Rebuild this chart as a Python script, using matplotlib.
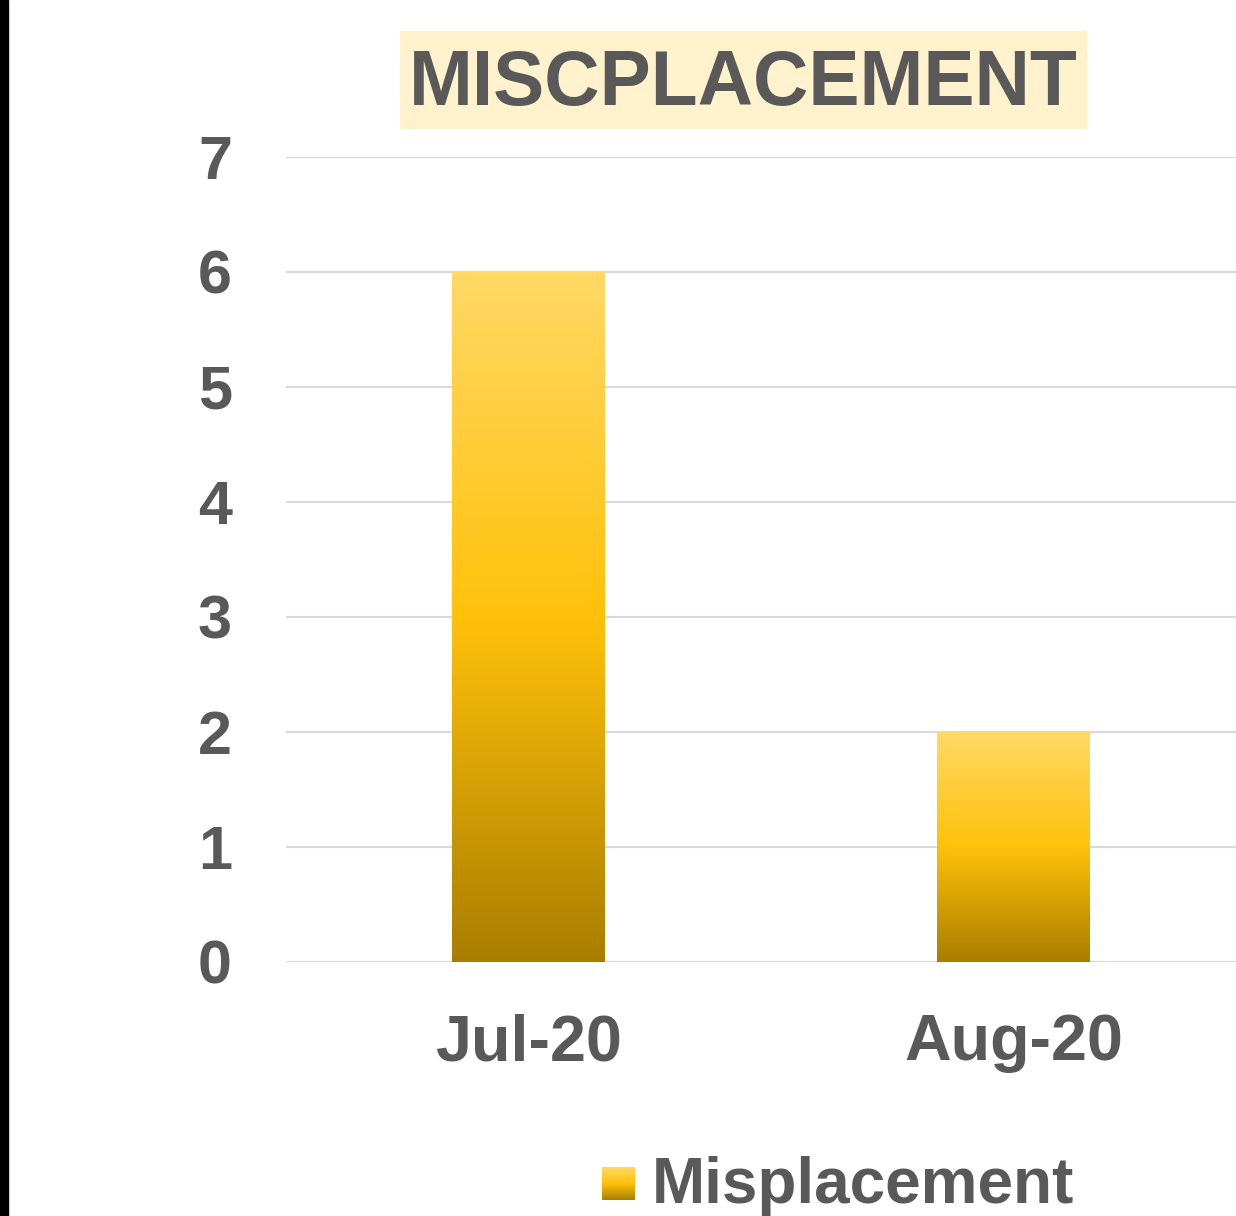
import numpy as np
import matplotlib
matplotlib.use("Agg")
import matplotlib.pyplot as plt
from matplotlib.colors import LinearSegmentedColormap
from matplotlib.patches import Rectangle

categories = ["Jul-20", "Aug-20"]
values = [6, 2]
series_name = "Misplacement"
title = "MISCPLACEMENT"
yticks = [0, 1, 2, 3, 4, 5, 6, 7]

W, H = 1236, 1216
fig = plt.figure(figsize=(W / 100, H / 100), dpi=100)
fig.patch.set_facecolor("white")

# left black border line
fig.add_artist(Rectangle((0, 0), 8 / W, 1, transform=fig.transFigure, color="black", zorder=10))

# axes: left 286 px, right 1256 px (clipped), bottom 962, top 157
ax_left = 286 / W
ax_w = (1256 - 286) / W
ax_bottom = (H - 962) / H
ax_h = (962 - 157) / H
ax = fig.add_axes([ax_left, ax_bottom, ax_w, ax_h])
ax.set_xlim(-0.5, 1.5)
ax.set_ylim(0, 7)

grad_cmap = LinearSegmentedColormap.from_list(
    "gold", [(0.0, "#A97E00"), (0.5, "#FFC10A"), (1.0, "#FFD966")]
)
grad = np.linspace(0, 1, 256).reshape(-1, 1)

x = np.arange(len(categories))
bars = ax.bar(x, values, width=0.315, color="none", edgecolor="none", zorder=3)
for b in bars:
    x0, y0 = b.get_x(), b.get_y()
    w, h = b.get_width(), b.get_height()
    im = ax.imshow(grad, cmap=grad_cmap, origin="lower", aspect="auto",
                   extent=(x0, x0 + w, y0, y0 + h), zorder=3, interpolation="bilinear")
    im.set_clip_path(b)
ax.set_xlim(-0.5, 1.5)
ax.set_ylim(0, 7)

ax.set_yticks(yticks)
ax.yaxis.grid(True, color="#D9D9D9", linewidth=1.5, zorder=0)
ax.set_axisbelow(True)
for s in ax.spines.values():
    s.set_visible(False)
ax.tick_params(length=0)
ax.set_xticks(x)
ax.set_xticklabels(categories)

font = "Liberation Sans"
tc = "#595959"
for lab in ax.get_yticklabels():
    lab.set_fontfamily(font); lab.set_fontweight("bold"); lab.set_fontsize(44); lab.set_color(tc)
for lab in ax.get_xticklabels():
    lab.set_fontfamily(font); lab.set_fontweight("bold"); lab.set_fontsize(46.5); lab.set_color(tc)
ax.tick_params(axis="y", pad=39)
ax.tick_params(axis="x", pad=37)

# title box
fig.add_artist(Rectangle((400 / W, 1 - 128 / H), (1086 - 400) / W, (128 - 31) / H,
                         transform=fig.transFigure, color="#FFF2CC", zorder=1))
fig.text(743 / W, 1 - 85 / H, title, ha="center", va="center", fontfamily=font,
         fontweight="bold", fontsize=55.3, color=tc, zorder=2)

# legend
lax = fig.add_axes([602 / W, 1 - 1200 / H, 33 / W, 33 / H])
lax.imshow(grad, cmap=grad_cmap, origin="lower", aspect="auto", extent=(0, 1, 0, 1))
lax.axis("off")
fig.text(652 / W, 1 - 1186 / H, series_name, ha="left", va="center", fontfamily=font,
         fontweight="bold", fontsize=46, color=tc)

fig.savefig("out.png", dpi=100, facecolor="white")
